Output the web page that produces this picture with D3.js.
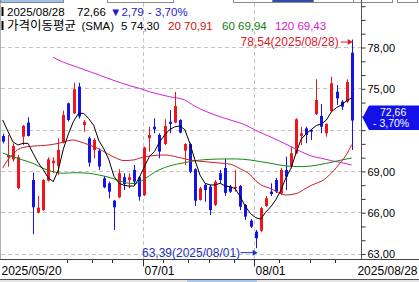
<!DOCTYPE html>
<html><head><meta charset="utf-8">
<script src="https://cdn.jsdelivr.net/npm/d3@7"></script>
<style>
html,body{margin:0;padding:0;background:#fff;overflow:hidden;}
svg{display:block;}
text{font-family:"Liberation Sans","Noto Sans CJK KR",sans-serif;}
</style></head><body>
<svg id="c" width="419" height="282"></svg>
<script>
// ---- data ----
const opens  = [71.54,69.99,69.84,67.74,71.49,72.51,68.34,65.97,66.16,68.29,69.55,69.36,71.05,73.91,73.18,75.12,72.33,71.37,70.52,70.47,68.46,68.10,66.84,67.08,68.54,68.34,69.07,68.54,67.25,71.37,72.21,71.61,70.95,72.57,72.51,72.70,70.47,70.95,69.12,66.89,67.98,67.85,66.53,68.83,69.21,67.85,67.74,67.90,66.53,65.39,64.59,64.66,66.45,67.49,68.34,67.37,69.07,69.31,70.28,71.54,72.09,71.97,73.13,72.99,71.73,73.35,74.75,74.03,74.03,77.59];
const highs  = [71.70,71.61,71.00,70.16,72.33,72.89,68.87,67.18,68.40,69.99,69.99,71.37,73.38,73.96,75.41,75.40,72.70,71.49,71.37,70.64,68.63,68.22,66.89,69.12,68.83,68.83,69.43,68.63,70.76,72.21,72.82,71.73,72.75,73.42,74.75,72.75,71.01,71.05,69.19,67.85,68.10,67.98,68.34,69.07,69.87,67.98,69.07,67.98,66.60,65.50,64.71,66.38,67.18,68.10,68.49,69.21,70.03,70.76,72.82,72.21,72.21,72.02,75.65,73.86,72.46,75.84,75.24,74.15,75.65,78.54];
const lows   = [71.00,69.31,69.67,67.67,70.88,71.50,64.40,65.92,66.10,68.22,68.83,68.70,71.00,72.58,73.14,72.80,71.85,69.31,69.92,69.07,67.74,67.01,64.71,67.01,67.61,67.74,67.98,66.84,67.18,70.40,71.73,69.92,70.88,71.73,72.46,71.73,69.43,68.83,66.45,66.84,66.76,65.80,66.45,68.12,67.18,67.40,67.49,66.16,65.44,64.85,63.39,64.56,66.38,67.18,67.40,67.25,67.61,69.19,70.23,70.88,71.01,71.25,73.06,71.73,71.49,73.30,73.79,73.42,73.95,70.52];
const closes = [71.13,70.16,70.81,69.99,72.26,71.54,66.36,66.33,68.34,69.84,69.74,70.52,73.06,72.70,74.93,72.95,72.57,69.60,71.25,69.31,67.81,67.49,66.36,68.83,68.05,68.54,68.22,67.13,70.69,71.61,72.02,70.40,72.26,72.41,73.71,71.78,70.95,68.94,66.84,67.74,67.61,66.16,68.22,68.34,67.40,67.49,67.85,66.40,65.68,64.95,64.11,66.29,67.01,67.32,67.49,69.07,68.58,70.28,72.75,71.73,71.61,71.85,74.15,72.21,72.41,75.36,74.27,73.66,75.45,72.66];

const ma5 = [72.70,71.90,71.12,70.88,71.00,71.00,70.28,69.60,69.10,68.50,68.22,69.07,70.60,71.70,72.60,73.18,73.18,72.80,72.30,71.20,70.60,69.80,68.60,68.10,67.95,67.90,67.90,68.50,69.30,70.05,70.40,71.10,71.60,72.00,72.20,72.26,72.00,71.00,69.80,68.70,68.10,67.98,67.98,68.10,67.90,67.85,67.70,67.10,66.40,65.90,65.60,65.50,66.00,66.40,66.90,67.60,68.50,69.20,70.30,71.30,71.70,72.00,72.30,72.40,72.70,73.30,73.60,73.80,74.10,74.30];
const ma20 = [[0,69.2],[1,69.8],[2,70.2],[3,70.55],[4,70.7],[6,70.8],[9,70.88],[11,71.0],[13,71.2],[14,71.25],[15,71.15],[17,70.9],[19,70.6],[22,70.0],[24,69.75],[26,69.8],[27,69.92],[29,70.08],[32,70.16],[34,70.05],[37,69.79],[40,69.67],[42,69.6],[45,69.48],[47,69.15],[49,68.7],[50,68.3],[51,68.0],[53,67.72],[55,67.35],[56,67.25],[58,67.35],[60,67.75],[61,67.95],[62,68.1],[63,68.25],[65,68.85],[66,69.25],[67,69.7],[68,70.2],[69,70.91]];
const ma60 = [[0,70.3],[2,70.03],[4,69.79],[6,69.55],[8,69.19],[10,68.94],[12,68.83],[14,68.87],[17,68.83],[19,68.7],[21,68.54],[23,68.29],[25,68.1],[26,68.08],[28,68.4],[30,68.9],[33,69.36],[36,69.6],[38,69.74],[41,69.84],[44,69.87],[46,69.87],[49,69.79],[51,69.67],[53,69.55],[56,69.36],[59,69.31],[61,69.36],[64,69.55],[67,69.79],[69,69.94]];
const ma120 = [[10,77.25],[11,77.06],[15,76.5],[19,75.97],[25,75.2],[27,75.0],[29,74.75],[33,74.39],[36,74.15],[38,73.7],[42,73.06],[45,72.7],[48,72.33],[50,71.95],[53,71.46],[55,71.12],[57,70.76],[59,70.4],[61,70.08],[63,69.92],[65,69.74],[67,69.6],[69,69.43]];

const yMinorTicks = [63,64,65,66,67,68,69,70,71,72,73,74,75,76,77,78,79,80,81];
const yLabelTicks = [63,66,69,72,75,78];
const monthIdx = [28,50];
const monthLabels = ["07/01","08/01"];
const weekIdx = [13,18,22,32,37,41,46,55,61,66];
const firstDate = "2025/05/20", lastDate = "2025/08/28";
const highIdx = 69, highText = "78,54(2025/08/28)";
const lowIdx = 50, lowText = "63,39(2025/08/01)";
const tagLines = ["72,66","- 3,70%"];
const legend1 = [["2025/08/28","#000",7],["72,66","#000",77],["▼2,79","#1a1ad0",110],["- 3,70%","#1a1ad0",148]];
const legend2 = [["5 74,30","#000",121],["20 70,91","#d01010",168],["60 69,94","#108010",222],["120 69,43","#d020d0",275]];
const legendTitle = ["가격이동평균","(SMA)"];

// ---- drawing ----
const svg = d3.select("#c");
const W = 419, H = 282, axisX = 361.5, plotBottom = 259.5;
const x = d3.scaleLinear().domain([0,69]).range([2.7,351.7]);
const y = d3.scaleLinear().domain([63,78]).range([253.5,47]);
const fmt = v => v.toFixed(2).replace(".", ",");
const ty = y(closes[closes.length-1]);
const tagTop = ty-15, tagBot = ty+9.5;

svg.append("rect").attr("width",W).attr("height",H).attr("fill","#fff");

// top toolbar remnants
const tb = [[0,63,"#9fc0ea"],[107,173,"#fff"],[233,272,"#fff"],[272,313,"#2d4fa8"],[313,353,"#fff"],[353,392,"#fff"],[397,417,"#fff"]];
svg.selectAll("rect.tb").data(tb).enter().append("rect")
  .attr("x",d=>d[0]+0.5).attr("y",-4).attr("width",d=>d[1]-d[0]).attr("height",6.5)
  .attr("fill",d=>d[2]).attr("stroke","#8a8a8a");

// grid
const g = svg.append("g");
g.selectAll("line.hg").data(yLabelTicks).enter().append("line")
  .attr("x1",1).attr("x2",axisX).attr("y1",d=>Math.round(y(d))+0.5).attr("y2",d=>Math.round(y(d))+0.5)
  .attr("stroke","#c4c4c4").attr("stroke-dasharray","4,3");
g.selectAll("line.vg").data(monthIdx).enter().append("line")
  .attr("x1",d=>Math.round(x(d)-1.5)+0.5).attr("x2",d=>Math.round(x(d)-1.5)+0.5)
  .attr("y1",3).attr("y2",plotBottom).attr("stroke","#c4c4c4").attr("stroke-dasharray","4,3");
g.append("line").attr("x1",0.5).attr("x2",0.5).attr("y1",3).attr("y2",plotBottom).attr("stroke","#b0b0b0");

// candles
const idx = d3.range(opens.length);
const cg = svg.append("g");
const col = i => closes[i] >= opens[i] ? "#f0141e" : "#1414e6";
cg.selectAll("rect.w").data(idx).enter().append("rect")
  .attr("x",i=>Math.round(x(i))).attr("width",1)
  .attr("y",i=>y(highs[i])).attr("height",i=>y(lows[i])-y(highs[i]))
  .attr("fill",col);
cg.selectAll("rect.b").data(idx).enter().append("rect")
  .attr("x",i=>Math.round(x(i))-1).attr("width",3)
  .attr("y",i=>y(Math.max(opens[i],closes[i])))
  .attr("height",i=>Math.max(1,Math.abs(y(opens[i])-y(closes[i]))))
  .attr("fill",col);

// moving averages
const lineP = d3.line().x(d=>x(d[0])).y(d=>y(d[1]));
const lineM = d3.line().x(d=>x(d[0])).y(d=>y(d[1])).curve(d3.curveMonotoneX);
svg.append("path").attr("d",lineM(ma120)).attr("fill","none").attr("stroke","#d81ed8").attr("stroke-width",1);
svg.append("path").attr("d",lineM(ma60)).attr("fill","none").attr("stroke","#138a13").attr("stroke-width",1);
svg.append("path").attr("d",lineM(ma20)).attr("fill","none").attr("stroke","#c81e28").attr("stroke-width",1);
svg.append("path").attr("d",lineP(ma5.map((v,i)=>[i,v]))).attr("fill","none").attr("stroke","#000").attr("stroke-width",1);

// right axis
svg.append("line").attr("x1",axisX).attr("x2",axisX).attr("y1",0).attr("y2",plotBottom).attr("stroke","#555");
const ax = d3.axisRight(y).tickValues(yMinorTicks).tickSize(4).tickPadding(2)
  .tickFormat(v => (yLabelTicks.includes(v) && !(y(v) > tagTop-6 && y(v) < tagBot+6)) ? fmt(v) : "");
const axg = svg.append("g").attr("transform",`translate(${axisX},0.5)`).call(ax);
axg.select(".domain").remove();
axg.selectAll("line").attr("stroke","#333");
axg.selectAll("text").attr("font-size",11).attr("fill","#000")
  .attr("font-family",'"Liberation Sans",sans-serif').attr("dy","0.35em");

// bottom axis
svg.append("line").attr("x1",0).attr("x2",W).attr("y1",plotBottom).attr("y2",plotBottom).attr("stroke","#444");
svg.selectAll("line.wk").data(weekIdx).enter().append("line")
  .attr("x1",d=>Math.round(x(d)-1.5)+0.5).attr("x2",d=>Math.round(x(d)-1.5)+0.5)
  .attr("y1",plotBottom).attr("y2",plotBottom+3.5).attr("stroke","#333");
svg.selectAll("line.mt").data(monthIdx).enter().append("line")
  .attr("x1",d=>Math.round(x(d)-1.5)+0.5).attr("x2",d=>Math.round(x(d)-1.5)+0.5)
  .attr("y1",plotBottom).attr("y2",plotBottom+7).attr("stroke","#333");
svg.selectAll("text.mt").data(monthIdx).enter().append("text")
  .attr("x",d=>Math.round(x(d)-1.5)+1.5).attr("y",274.5).attr("font-size",12).text((d,i)=>monthLabels[i]);
svg.append("text").attr("x",1.5).attr("y",274.5).attr("font-size",12).text(firstDate);
svg.append("text").attr("x",417.5).attr("y",274.5).attr("font-size",12).attr("text-anchor","end").text(lastDate);
svg.append("line").attr("x1",0).attr("x2",W).attr("y1",279.5).attr("y2",279.5).attr("stroke","#555");
svg.append("rect").attr("x",0).attr("y",280).attr("width",W).attr("height",2).attr("fill","#e4e4e4");
svg.append("rect").attr("x",187).attr("y",280).attr("width",70).attr("height",2).attr("fill","#a9c6ee");

// price tag
const tag = svg.append("g");
tag.append("path").attr("d",`M362.5,${(tagTop+tagBot)/2} L369,${tagTop} L419,${tagTop} L419,${tagBot} L369,${tagBot} Z`).attr("fill","#1212e8");
tag.append("text").attr("x",380).attr("y",tagTop+10).attr("font-size",10.5).attr("fill","#fff").text(tagLines[0]);
tag.append("text").attr("x",373).attr("y",tagTop+21.5).attr("font-size",10.5).attr("fill","#fff").text(tagLines[1]);

// high / low annotations
const hx = x(highIdx), hy = y(highs[highIdx]);
svg.append("text").attr("x",hx-13).attr("y",hy+6.5).attr("font-size",12).attr("text-anchor","end").attr("fill","#d8202a").text(highText);
svg.append("line").attr("x1",hx-11).attr("x2",hx-2).attr("y1",hy+2.5).attr("y2",hy+2.5).attr("stroke","#d8202a");
svg.append("path").attr("d",`M${hx+1},${hy+2.5} L${hx-4},${hy-0.5} L${hx-4},${hy+5.5} Z`).attr("fill","#d8202a");
const lx = x(lowIdx), ly = y(lows[lowIdx]);
svg.append("text").attr("x",lx-15.5).attr("y",ly+8.8).attr("font-size",12).attr("text-anchor","end").attr("fill","#2030c0").text(lowText);
svg.append("line").attr("x1",lx-15).attr("x2",lx-1).attr("y1",ly+4.5).attr("y2",ly+4.5).attr("stroke","#2030c0");
svg.append("path").attr("d",`M${lx+2},${ly+4.5} L${lx-3},${ly+1.5} L${lx-3},${ly+7.5} Z`).attr("fill","#2030c0");

// legend
svg.append("rect").attr("x",1.5).attr("y",7).attr("width",2).attr("height",9).attr("fill","#000");
svg.append("rect").attr("x",1.5).attr("y",21).attr("width",2).attr("height",9).attr("fill","#000");
legend1.forEach(d => svg.append("text").attr("x",d[2]).attr("y",16).attr("font-size",11.5).attr("fill",d[1]).text(d[0]));
svg.append("text").attr("x",7).attr("y",29.5).attr("font-size",12.5).attr("fill","#000").text(legendTitle[0]);
svg.append("text").attr("x",81.5).attr("y",29.5).attr("font-size",11.5).attr("fill","#000").text(legendTitle[1]);
legend2.forEach(d => svg.append("text").attr("x",d[2]).attr("y",29.5).attr("font-size",11.5).attr("fill",d[1]).text(d[0]));
</script>
</body></html>
